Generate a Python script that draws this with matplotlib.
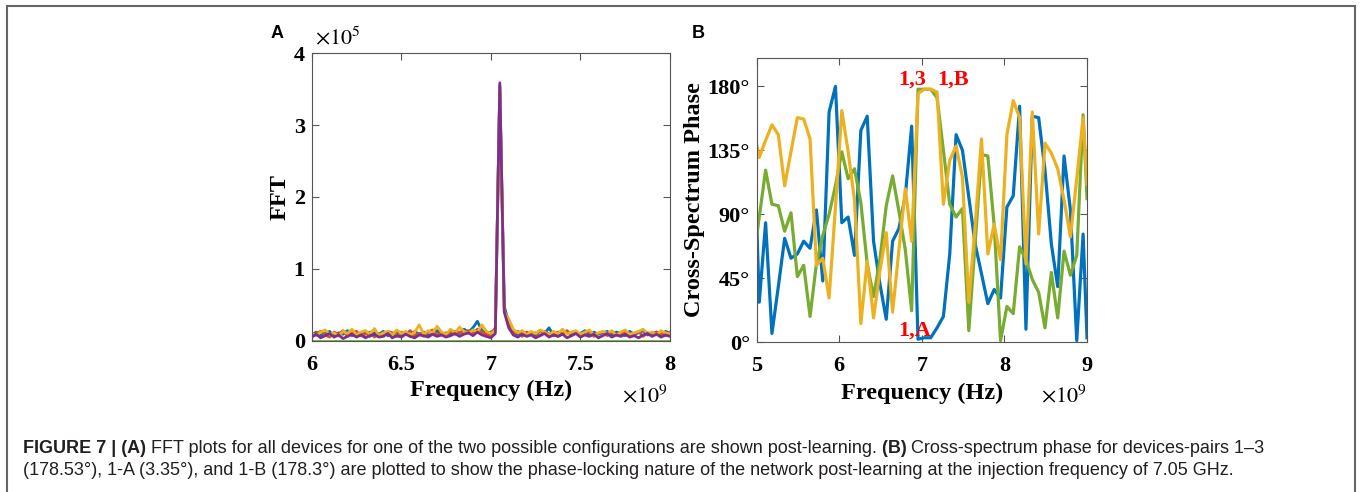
"""FFT spectra (A) and cross-spectrum phase (B) after learning, with figure caption."""
import numpy as np
import matplotlib
matplotlib.use("Agg")
import matplotlib.pyplot as plt
from matplotlib.lines import Line2D

# ---------------- data: panel A (FFT, units of 1e5; freq in GHz) ----------------
freq_a = np.linspace(6.0, 8.0, 81)           # 0.025 GHz grid, 7.05 GHz = index 42
fft_blue = [
    0.08, 0.12, 0.07, 0.10, 0.13, 0.06, 0.11, 0.09, 0.14, 0.07,
    0.10, 0.08, 0.12, 0.06, 0.11, 0.09, 0.13, 0.07, 0.10, 0.12,
    0.08, 0.11, 0.06, 0.13, 0.09, 0.12, 0.07, 0.10, 0.14, 0.08,
    0.11, 0.09, 0.13, 0.10, 0.16, 0.12, 0.18, 0.27, 0.14, 0.10,
    0.12, 0.15, 3.55, 0.48, 0.24, 0.12, 0.09, 0.13, 0.07, 0.11,
    0.08, 0.14, 0.10, 0.18, 0.07, 0.12, 0.09, 0.13, 0.08, 0.11,
    0.10, 0.14, 0.07, 0.12, 0.09, 0.11, 0.13, 0.08, 0.12, 0.10,
    0.07, 0.13, 0.09, 0.11, 0.14, 0.08, 0.10, 0.12, 0.07, 0.13, 0.10]
fft_orange = [
    0.06, 0.10, 0.13, 0.08, 0.05, 0.12, 0.09, 0.14, 0.06, 0.11,
    0.13, 0.07, 0.09, 0.12, 0.05, 0.10, 0.08, 0.13, 0.11, 0.06,
    0.12, 0.09, 0.14, 0.07, 0.10, 0.06, 0.12, 0.15, 0.08, 0.11,
    0.07, 0.13, 0.09, 0.12, 0.10, 0.14, 0.11, 0.16, 0.12, 0.09,
    0.08, 0.18, 3.50, 0.42, 0.20, 0.10, 0.13, 0.06, 0.12, 0.09,
    0.11, 0.07, 0.13, 0.09, 0.12, 0.06, 0.10, 0.14, 0.07, 0.12,
    0.08, 0.11, 0.13, 0.06, 0.10, 0.12, 0.07, 0.13, 0.09, 0.11,
    0.12, 0.08, 0.10, 0.13, 0.06, 0.11, 0.09, 0.12, 0.10, 0.07, 0.12]
fft_yellow = [
    0.10, 0.07, 0.12, 0.15, 0.09, 0.11, 0.06, 0.13, 0.10, 0.16,
    0.08, 0.12, 0.14, 0.09, 0.17, 0.07, 0.11, 0.13, 0.08, 0.15,
    0.10, 0.13, 0.07, 0.12, 0.22, 0.09, 0.14, 0.11, 0.20, 0.12,
    0.09, 0.16, 0.11, 0.19, 0.13, 0.10, 0.15, 0.12, 0.22, 0.13,
    0.10, 0.14, 3.52, 0.40, 0.30, 0.16, 0.11, 0.14, 0.08, 0.13,
    0.10, 0.15, 0.12, 0.08, 0.13, 0.10, 0.16, 0.09, 0.12, 0.14,
    0.09, 0.12, 0.15, 0.08, 0.11, 0.13, 0.10, 0.14, 0.07, 0.12,
    0.15, 0.09, 0.11, 0.13, 0.16, 0.10, 0.12, 0.08, 0.14, 0.11, 0.09]
fft_purple = [
    0.05, 0.09, 0.04, 0.07, 0.10, 0.05, 0.08, 0.03, 0.06, 0.09,
    0.05, 0.08, 0.04, 0.07, 0.09, 0.05, 0.06, 0.10, 0.04, 0.07,
    0.05, 0.09, 0.06, 0.04, 0.08, 0.07, 0.05, 0.09, 0.06, 0.08,
    0.05, 0.07, 0.10, 0.06, 0.09, 0.11, 0.07, 0.12, 0.08, 0.06,
    0.04, 0.10, 3.59, 0.40, 0.18, 0.08, 0.05, 0.09, 0.06, 0.08,
    0.04, 0.07, 0.10, 0.05, 0.08, 0.06, 0.09, 0.04, 0.07, 0.10,
    0.05, 0.08, 0.06, 0.09, 0.04, 0.07, 0.10, 0.05, 0.08, 0.06,
    0.09, 0.05, 0.07, 0.04, 0.08, 0.10, 0.06, 0.09, 0.05, 0.08, 0.06]
fft_green = [
    0.0, 0.0, 0.0, 0.0, 0.0, 0.0, 0.0, 0.0, 0.0, 0.0,
    0.0, 0.0, 0.0, 0.0, 0.0, 0.0, 0.0, 0.0, 0.0, 0.0,
    0.0, 0.0, 0.0, 0.0, 0.0, 0.0, 0.0, 0.0, 0.0, 0.0,
    0.0, 0.0, 0.0, 0.0, 0.0, 0.0, 0.0, 0.0, 0.0, 0.0,
    0.0, 0.0, 0.0, 0.0, 0.0, 0.0, 0.0, 0.0, 0.0, 0.0,
    0.0, 0.0, 0.0, 0.0, 0.0, 0.0, 0.0, 0.0, 0.0, 0.0,
    0.0, 0.0, 0.0, 0.0, 0.0, 0.0, 0.0, 0.0, 0.0, 0.0,
    0.0, 0.0, 0.0, 0.0, 0.0, 0.0, 0.0, 0.0, 0.0, 0.0, 0.0]

# ---------------- data: panel B (cross-spectrum phase, degrees) ----------------
freq_b = np.append(4.954 + 0.0769 * np.arange(53), 9.0)   # GHz
phase_1A = [168, 28, 84, 6, 39, 73, 59, 62, 71, 66,
            93, 43, 162, 180, 84, 88, 61, 149, 159, 71,
            41, 16, 71, 80, 103, 152, 2, 3, 3, 10,
            18, 62, 146, 135, 102, 69, 48, 27, 37, 31,
            95, 103, 166, 9, 159, 158, 121, 69, 39, 131,
            93, 1, 76, 3]
phase_13 = [55, 88, 121, 97, 96, 78, 91, 46, 54, 18,
            55, 75, 90, 110, 134, 115, 122, 98, 55, 32,
            58, 96, 117, 92, 65, 22, 178, 178, 178, 172,
            135, 97, 88, 94, 8, 70, 132, 131, 82, 1,
            25, 20, 67, 58, 44, 35, 10, 49, 17, 64,
            47, 61, 160, 101]
phase_1B = [152, 130, 142, 153, 146, 110, 134, 158, 157, 143,
            54, 59, 31, 95, 163, 134, 100, 13, 57, 17,
            50, 77, 21, 65, 108, 71, 175, 178, 178, 176,
            97, 128, 138, 116, 28, 82, 143, 62, 83, 58,
            146, 170, 158, 55, 162, 76, 140, 133, 122, 100,
            74, 115, 158, 111]

xticks_a = [6, 6.5, 7, 7.5, 8]
xticks_b = [5, 6, 7, 8, 9]
yticks_b = [0, 45, 90, 135, 180]

# MATLAB default colour order
BLUE, ORANGE, YELLOW, PURPLE, GREEN = "#0072BD", "#D95319", "#EDB120", "#7E2F8E", "#77AC30"
SERIF = ["Liberation Serif", "DejaVu Serif"]
CAP_FONT = ["Liberation Sans Narrow", "Liberation Sans", "DejaVu Sans"]

W, H = 1360, 492
fig = plt.figure(figsize=(W / 100, H / 100), dpi=100)


def style_axes(ax):
    for s in ax.spines.values():
        s.set_color("#555555"); s.set_linewidth(0.8)
    ax.tick_params(direction="in", top=True, right=True, length=5, width=0.8,
                   color="#555555", labelcolor="black")
    ax.tick_params(axis="x", pad=10)
    ax.tick_params(axis="y", pad=5)
    for lab in ax.get_xticklabels() + ax.get_yticklabels():
        lab.set_fontfamily(SERIF); lab.set_fontweight("bold"); lab.set_fontsize(16)


# ---------- Panel A ----------
axA = fig.add_axes([311.7 / W, 1 - 340.7 / H, 358.3 / W, 287.4 / H])
for y, c in [(fft_blue, BLUE), (fft_orange, ORANGE), (fft_yellow, YELLOW),
             (fft_purple, PURPLE), (fft_green, GREEN)]:
    axA.plot(freq_a, y, color=c, lw=2.0)
axA.set_xlim(6, 8); axA.set_ylim(0, 4)
axA.set_xticks(xticks_a); axA.set_xticklabels(["6", "6.5", "7", "7.5", "8"])
axA.set_yticks([0, 1, 2, 3, 4]); axA.set_yticklabels(["0", "1", "2", "3", "4"])
style_axes(axA)
axA.set_xlabel("Frequency (Hz)", fontfamily=SERIF, fontweight="bold", fontsize=17.5, labelpad=4)
axA.set_ylabel("FFT", fontfamily=SERIF, fontweight="bold", fontsize=17.5, labelpad=2)
axA.text(0.01, 1.017, r"$\times10^{5}$", transform=axA.transAxes, fontsize=16,
         math_fontfamily="stix", ha="left", va="bottom")
axA.text(0.994, -0.213, r"$\times10^{9}$", transform=axA.transAxes, fontsize=16,
         math_fontfamily="stix", ha="right", va="baseline")

# ---------- Panel B ----------
axB = fig.add_axes([756.7 / W, 1 - 342 / H, 330.3 / W, 284 / H])
axB.plot(freq_b, phase_1A, color=BLUE, lw=2.3)
axB.plot(freq_b, phase_13, color=GREEN, lw=2.3)
axB.plot(freq_b, phase_1B, color=YELLOW, lw=2.3)
axB.set_xlim(5, 9); axB.set_ylim(0, 200)
axB.set_xticks(xticks_b); axB.set_xticklabels([str(v) for v in xticks_b])
axB.set_yticks(yticks_b); axB.set_yticklabels([f"{v}°" for v in yticks_b])
style_axes(axB)
axB.set_xlabel("Frequency (Hz)", fontfamily=SERIF, fontweight="bold", fontsize=17.5, labelpad=5)
axB.set_ylabel("Cross-Spectrum Phase", fontfamily=SERIF, fontweight="bold", fontsize=17.5, labelpad=2)
axB.text(1.0, -0.211, r"$\times10^{9}$", transform=axB.transAxes, fontsize=16,
         math_fontfamily="stix", ha="right", va="baseline")
for txt, fx, py in [("1,3", 6.71, 181), ("1,B", 7.19, 181), ("1,A", 6.71, 4.5)]:
    axB.text(fx, py, txt, color="red", fontfamily=SERIF, fontweight="bold", fontsize=16,
             ha="left", va="baseline")

# panel letters
fig.text(271 / W, 1 - 38 / H, "A", fontfamily=["Liberation Sans", "DejaVu Sans"],
         fontweight="bold", fontsize=13, va="baseline")
fig.text(692 / W, 1 - 38 / H, "B", fontfamily=["Liberation Sans", "DejaVu Sans"],
         fontweight="bold", fontsize=13, va="baseline")

# frame around the figure (top, left, right)
for xs, ys in [([7.3, 1355], [6, 6]), ([7.3, 7.3], [6, H]), ([1355, 1355], [6, H])]:
    fig.add_artist(Line2D([x / W for x in xs], [1 - y / H for y in ys],
                          color="#666666", lw=1.5, transform=fig.transFigure))

# ---------- caption (mixed bold / regular runs) ----------
line1 = [("FIGURE 7 | (A)", True),
         (" FFT plots for all devices for one of the two possible configurations are shown post-learning.", False),
         (" (B)", True),
         (" Cross-spectrum phase for devices-pairs 1–3", False)]
line2 = [("(178.53°), 1-A (3.35°), and 1-B (178.3°) are plotted to show the phase-locking nature "
          "of the network post-learning at the injection frequency of 7.05 GHz.", False)]

renderer = fig.canvas.get_renderer()


def draw_runs(runs, x0, y, size, keep=True):
    x = x0
    made = []
    for txt, bold in runs:
        t = fig.text(x, y, txt, fontsize=size, fontweight="bold" if bold else "normal",
                     fontfamily=CAP_FONT, color="#231f20", ha="left", va="baseline")
        x += t.get_window_extent(renderer).width / W
        made.append(t)
    if not keep:
        for t in made:
            t.remove()
    return x - x0


x_cap = 22.7 / W
size = 12.0
width = draw_runs(line1, x_cap, 0.5, size, keep=False)
size *= (1245 / W) / width
draw_runs(line1, x_cap, 1 - 453 / H, size)
draw_runs(line2, x_cap, 1 - 475 / H, size)

fig.savefig("out.png", dpi=100)
